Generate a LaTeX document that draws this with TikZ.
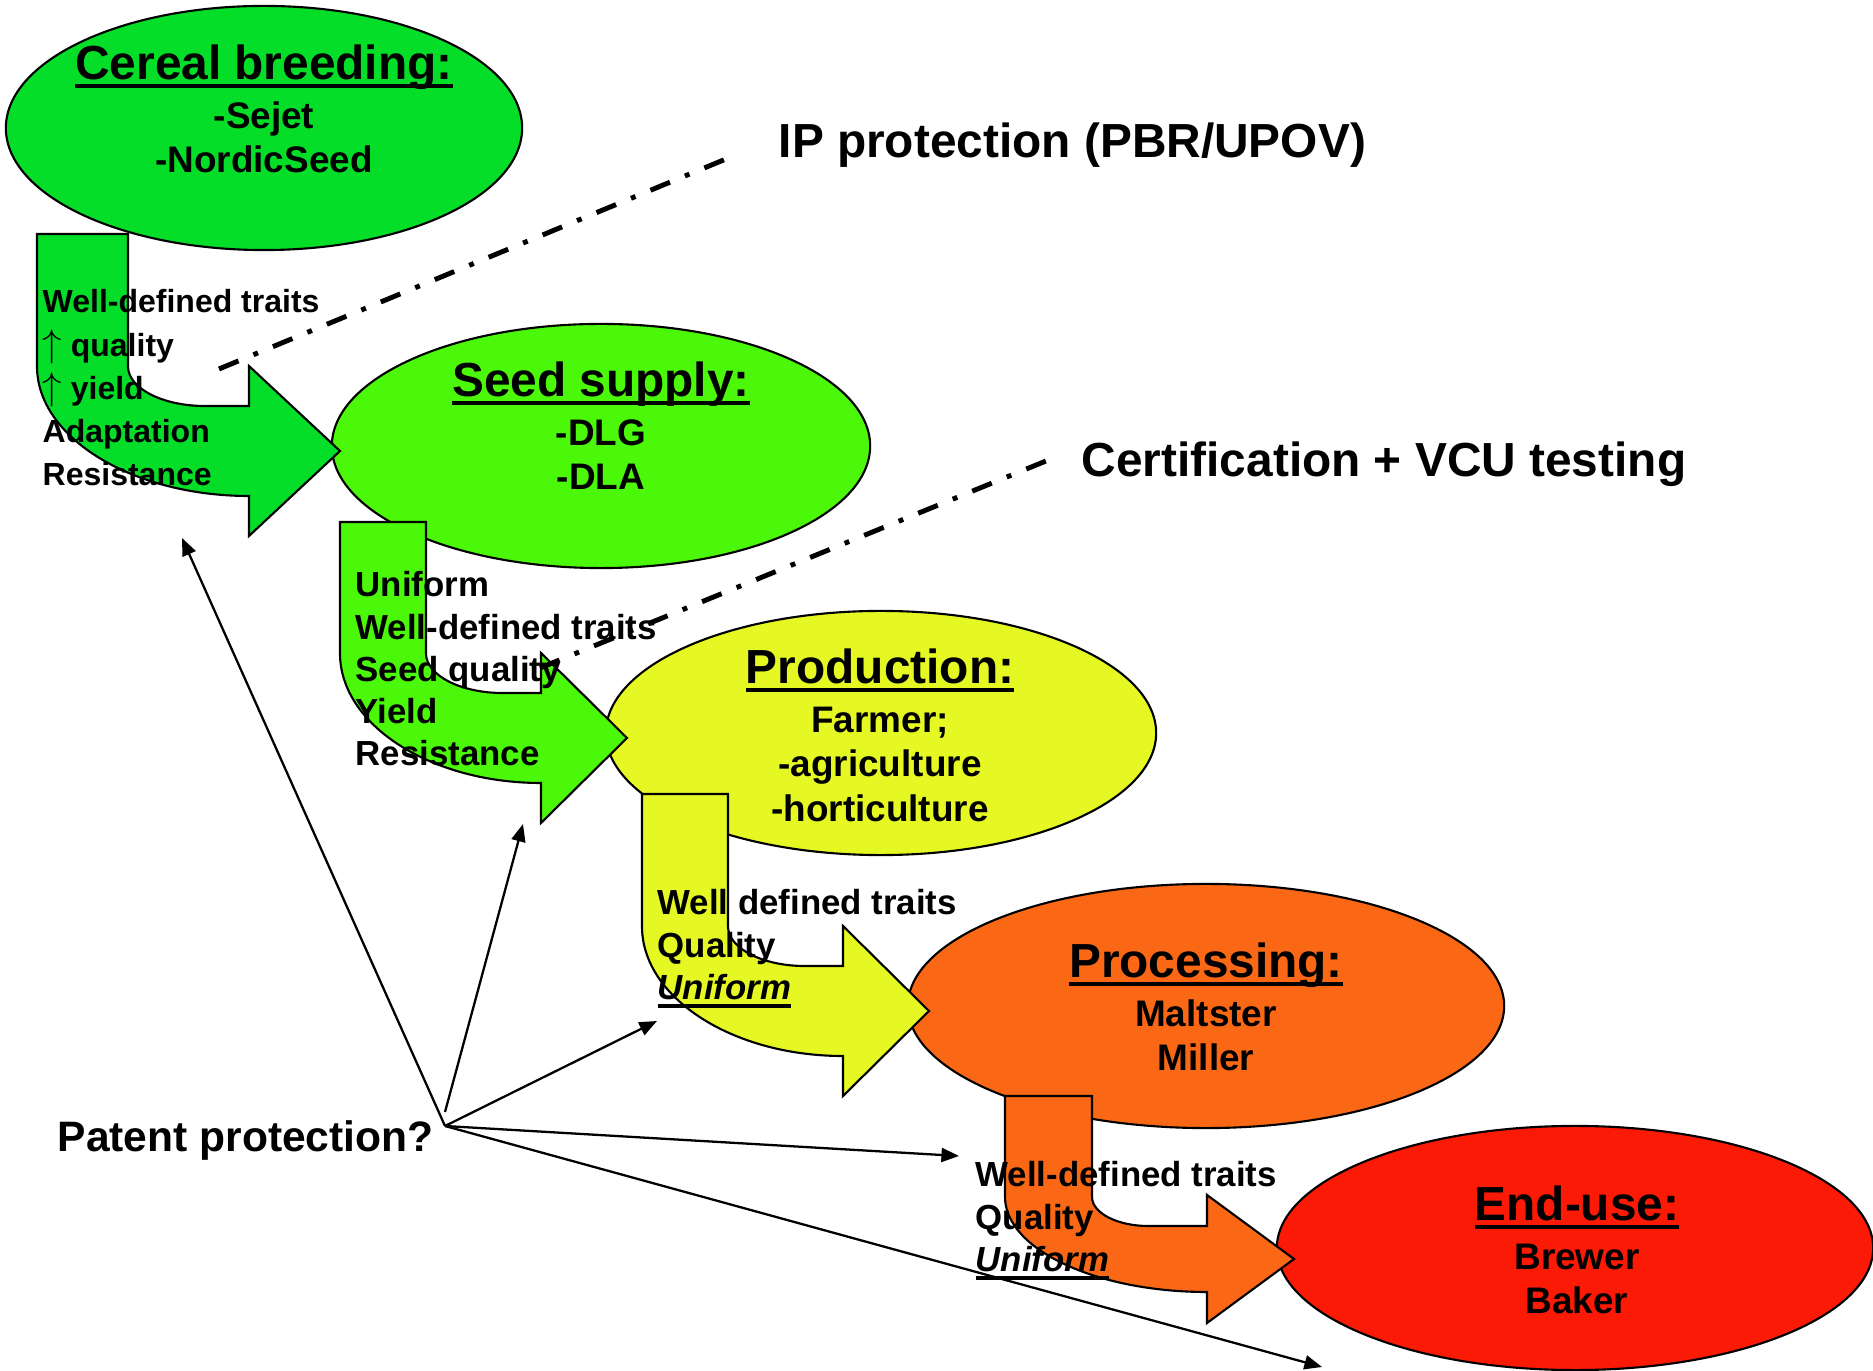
\documentclass[tikz,border=0pt]{standalone}
\usepackage{fontspec}
\setmainfont{Liberation Sans}
\usetikzlibrary{shapes.geometric,arrows.meta}

\definecolor{breedgreen}{RGB}{5,222,40}
\definecolor{seedgreen}{RGB}{76,248,10}
\definecolor{prodyellow}{RGB}{230,248,36}
\definecolor{procorange}{RGB}{250,104,22}
\definecolor{endred}{RGB}{250,26,6}

% thick underline
\newsavebox{\ulbox}
\newcommand{\thickul}[1]{\sbox{\ulbox}{#1}\rlap{\rule[-2.4pt]{\wd\ulbox}{1.1pt}}\usebox{\ulbox}}
\newcommand{\uparr}{{\fontsize{10.5}{12}\selectfont$\uparrow$}}

% u-turn arrow: colour, left x, top y, shaft width, band, bottom y, head x, head half height
\newcommand{\bentarrow}[8]{%
  \pgfmathsetmacro{\baxr}{#2+#4}
  \pgfmathsetmacro{\bayin}{#6-#5}
  \pgfmathsetmacro{\baryi}{0.44*#5}
  \pgfmathsetmacro{\barxi}{0.85*#5}
  \pgfmathsetmacro{\baya}{\bayin-\baryi}
  \pgfmathsetmacro{\bayc}{#6-#5/2}
  \pgfmathsetmacro{\barxo}{#7-#2}
  \pgfmathsetmacro{\baryo}{#6-\baya}
  \draw[bent, fill=#1] (#2,#3) -- (\baxr,#3) -- (\baxr,\baya)
    .. controls (\baxr,{\baya+0.55*\baryi}) and ({\baxr+0.45*\barxi},\bayin) .. ({\baxr+\barxi},\bayin)
    -- (#7,\bayin) -- (#7,{\bayc-#8}) -- ({#7+#4},\bayc) -- (#7,{\bayc+#8}) -- (#7,#6)
    .. controls ({#7-0.55*\barxo},#6) and (#2,{\baya+0.55*\baryo}) .. (#2,\baya) -- cycle;
}

\begin{document}
\begin{tikzpicture}[x=0.01cm,y=-0.01cm,
	stage/.style={ellipse, draw, line width=0.6pt, inner sep=0pt},
	bent/.style={draw, line width=0.6pt, line join=miter},
	stagetext/.style={align=center, inner sep=0pt, anchor=north, font=\bfseries\fontsize{10.5}{12.7}\selectfont},
	trait/.style={align=left, inner sep=0pt, anchor=north west, font=\bfseries\fontsize{9.9}{12}\selectfont},
	note/.style={inner sep=0pt, anchor=base west, font=\bfseries\fontsize{13.6}{16}\selectfont},
	ipline/.style={line width=1.4pt, dash pattern=on 6pt off 4.6pt on 1.4pt off 4.6pt},
	patentarrow/.style={line width=0.65pt, -{Triangle[length=5pt,width=4pt]}}]
	\useasboundingbox (0,0) rectangle (1873,1371);

	% stages
	\node[stage, fill=breedgreen, minimum width=5.16cm, minimum height=2.44cm] (breed) at (264,128) {};
	\node[stage, fill=seedgreen, minimum width=5.38cm, minimum height=2.44cm] (seed) at (601,446) {};
	\node[stage, fill=prodyellow, minimum width=5.5cm, minimum height=2.44cm] (prod) at (881,733) {};
	\node[stage, fill=procorange, minimum width=5.96cm, minimum height=2.44cm] (proc) at (1206,1006) {};
	\node[stage, fill=endred, minimum width=5.96cm, minimum height=2.44cm] (enduse) at (1575,1248) {};

	% flows
	\bentarrow{breedgreen}{37}{234}{91}{90}{496}{249}{85}
	\bentarrow{seedgreen}{340}{522}{86}{90}{783}{541}{85}
	\bentarrow{prodyellow}{642}{794}{86}{90}{1056}{843}{85}
	\bentarrow{procorange}{1005}{1096}{87}{66}{1292}{1207}{64}

	% protection lines
	\coordinate (ipA) at (219,369);
	\coordinate (ipB) at (726,159);
	\coordinate (certA) at (540,668);
	\coordinate (certB) at (1046,461);
	\draw[ipline] (ipA) -- (ipB);
	\draw[ipline] (certA) -- (certB);

	\coordinate (hub) at (445,1126);
	\coordinate (hubup) at (445,1112);
	\coordinate (tobreed) at (182,538);
	\coordinate (toseed) at (523,824);
	\coordinate (toprod) at (657,1021);
	\coordinate (toproc) at (959,1156);
	\coordinate (toend) at (1322,1367);
	\draw[patentarrow] (hub) -- (tobreed);
	\draw[patentarrow] (hubup) -- (toseed);
	\draw[patentarrow] (hub) -- (toprod);
	\draw[patentarrow] (hub) -- (toproc);
	\draw[patentarrow] (hub) -- (toend);

	% texts
	\node[stagetext] (breedtxt) at (264,44) {{\fontsize{13.6}{15}\selectfont\thickul{Cereal breeding:}}\\[1.2pt] -Sejet\\ -NordicSeed};
	\node[stagetext] (seedtxt) at (601,361) {{\fontsize{13.6}{15}\selectfont\thickul{Seed supply:}}\\[1.2pt] -DLG\\ -DLA};
	\node[stagetext] (prodtxt) at (880,648) {{\fontsize{13.6}{15}\selectfont\thickul{Production:}}\\[1.2pt] Farmer;\\ -agriculture\\ -horticulture};
	\node[stagetext] (proctxt) at (1206,942) {{\fontsize{13.6}{15}\selectfont\thickul{Processing:}}\\[1.2pt] Maltster\\ Miller};
	\node[stagetext] (endtxt) at (1577,1185) {{\fontsize{13.6}{15}\selectfont\thickul{End-use:}}\\[1.2pt] Brewer\\ Baker};

	\node[trait, font=\bfseries\fontsize{9.1}{12.3}\selectfont] (breedtraits) at (42,289) {Well-defined traits\\ \uparr\ quality\\ \uparr\ yield\\ Adaptation\\ Resistance};
	\node[trait] (seedtraits) at (355,571) {Uniform\\ Well-defined traits\\ Seed quality\\ Yield\\ Resistance};
	\node[trait] (prodtraits) at (657,889) {Well defined traits\\ Quality\\ \thickul{\itshape Uniform}};
	\node[trait] (proctraits) at (975,1161) {Well-defined traits\\ Quality\\ \thickul{\itshape Uniform}};

	\node[note] (ip) at (778,158) {IP protection (PBR/UPOV)};
	\node[note] (cert) at (1081,477) {Certification + VCU testing};
	\node[note, font=\bfseries\fontsize{12.1}{14}\selectfont] (patent) at (57,1152) {Patent protection?};
\end{tikzpicture}
\end{document}
